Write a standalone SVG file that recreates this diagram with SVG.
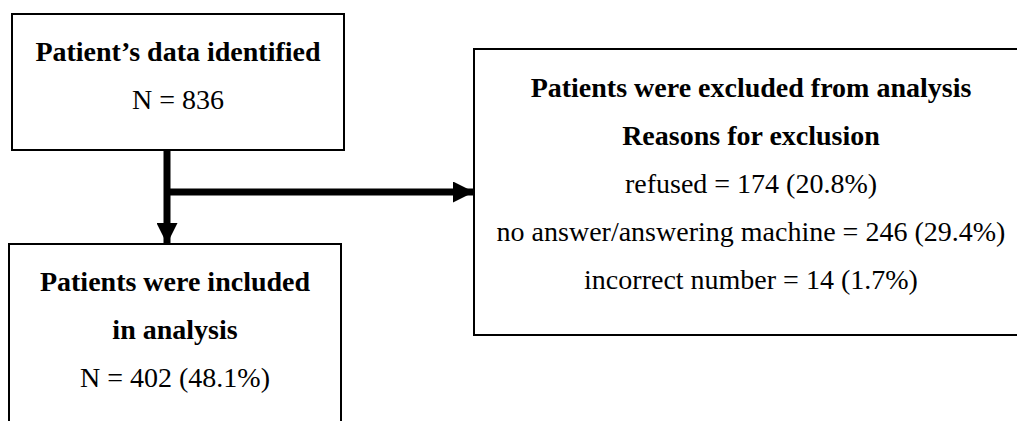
<svg xmlns="http://www.w3.org/2000/svg" width="1017" height="421" viewBox="0 0 1017 421">
<style>
.box{fill:#fff;stroke:#000;stroke-width:2}
.t{font-family:'Liberation Serif','Times New Roman',serif;font-size:28px;fill:#000;text-anchor:middle}
.b{font-weight:bold}
.conn{stroke:#000;stroke-width:7;fill:none}
</style>
<defs>
<marker id="ah" markerUnits="userSpaceOnUse" markerWidth="21" markerHeight="21" refX="20" refY="10.5" orient="auto">
<path d="M0,0 L21,10.5 L0,21 Z" fill="#000"/>
</marker>
</defs>
<rect width="1017" height="421" fill="#fff"/>
<g id="node-identified">
<rect class="box" x="12" y="14" width="332" height="136"/>
<text class="t b" x="178" y="61">Patient’s data identified</text>
<text class="t" x="178" y="109">N = 836</text>
</g>
<g id="node-excluded">
<rect class="box" x="474" y="49" width="560" height="286"/>
<text class="t b" x="751" y="97">Patients were excluded from analysis</text>
<text class="t b" x="751" y="145">Reasons for exclusion</text>
<text class="t" x="751" y="193">refused = 174 (20.8%)</text>
<text class="t" x="751" y="241">no answer/answering machine = 246 (29.4%)</text>
<text class="t" x="751" y="289">incorrect number = 14 (1.7%)</text>
</g>
<g id="node-included">
<rect class="box" x="9" y="244" width="332" height="200"/>
<text class="t b" x="175" y="291">Patients were included</text>
<text class="t b" x="175" y="339">in analysis</text>
<text class="t" x="175" y="387">N = 402 (48.1%)</text>
</g>
<g id="connectors">
<line class="conn" x1="167" y1="149" x2="167" y2="243" marker-end="url(#ah)"/>
<line class="conn" x1="167" y1="192" x2="473" y2="192" marker-end="url(#ah)"/>
</g>
</svg>
